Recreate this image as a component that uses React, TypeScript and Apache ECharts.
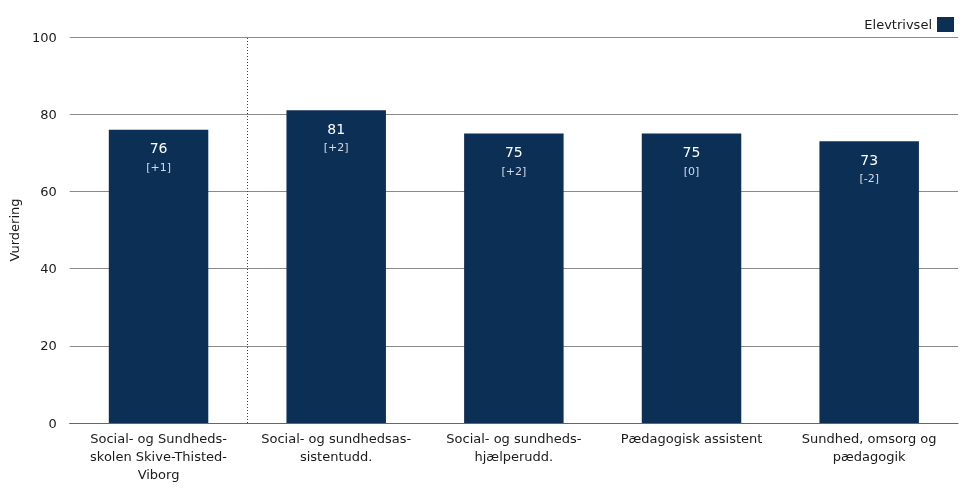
import React, { useEffect, useRef } from "react";
import * as echarts from "echarts";

const categories = [
  "Social- og Sundheds-\nskolen Skive-Thisted-\nViborg",
  "Social- og sundhedsas-\nsistentudd.",
  "Social- og sundheds-\nhjælperudd.",
  "Pædagogisk assistent",
  "Sundhed, omsorg og\npædagogik",
];
const values = [76, 81, 75, 75, 73];
const deltas = ["[+1]", "[+2]", "[+2]", "[0]", "[-2]"];
const yTicks = { min: 0, max: 100, interval: 20 };
const seriesName = "Elevtrivsel";
// separator drawn after the first category (boundary index on a 0..n scale)
const separatorAfter = 1;

const FONT = "DejaVu Sans";

export default function App() {
  const ref = useRef<HTMLDivElement>(null);
  useEffect(() => {
    if (!ref.current) return;
    const chart = echarts.init(ref.current, undefined, { renderer: "svg" });
    chart.setOption({
      animation: false,
      textStyle: { fontFamily: FONT },
      legend: {
        right: 11,
        top: 12,
        align: "right",
        itemWidth: 17,
        itemHeight: 15,
        itemGap: 5,
        textStyle: { fontFamily: FONT, fontSize: 13, color: "#1a1a1a" },
        data: [{ name: seriesName, icon: "rect" }],
      },
      grid: { left: 68, right: 12, top: 37, bottom: 68, containLabel: false },
      xAxis: [
        {
          type: "category",
          data: categories,
          axisLine: { show: true, lineStyle: { color: "#666", width: 1 } },
          axisTick: { show: false },
          axisLabel: {
            interval: 0,
            color: "#1a1a1a",
            fontFamily: FONT,
            fontSize: 13,
            lineHeight: 18,
            margin: 6,
          },
          splitLine: { show: false },
        },
        {
          type: "value",
          min: 0,
          max: categories.length,
          show: true,
          position: "bottom",
          axisLine: { show: false },
          axisTick: { show: false },
          axisLabel: { show: false },
          splitLine: { show: false },
        },
      ],
      yAxis: {
        type: "value",
        min: yTicks.min,
        max: yTicks.max,
        interval: yTicks.interval,
        name: "Vurdering",
        nameLocation: "middle",
        nameGap: 40,
        nameTextStyle: { color: "#1a1a1a", fontFamily: FONT, fontSize: 13 },
        axisLine: { show: false },
        axisTick: { show: false },
        axisLabel: { color: "#1a1a1a", fontFamily: FONT, fontSize: 13, margin: 13 },
        splitLine: { show: true, lineStyle: { color: "#8a8a8a", width: 1 } },
      },
      series: [
        {
          name: seriesName,
          type: "bar",
          xAxisIndex: 0,
          barWidth: "56%",
          itemStyle: { color: "#0c2f56" },
          data: values.map((v, i) => ({
            value: v,
            label: {
              formatter: `{v|${v}}\n{d|${deltas[i]}}`,
            },
          })),
          label: {
            show: true,
            position: "insideTop",
            distance: 9,
            rich: {
              v: { color: "#ffffff", fontSize: 14, fontFamily: FONT, fontWeight: "normal", lineHeight: 19 },
              d: { color: "#d5dbe3", fontSize: 11, fontFamily: FONT, fontWeight: "normal", lineHeight: 19 },
            },
          },
        },
        {
          name: "separator",
          type: "line",
          xAxisIndex: 1,
          data: [],
          silent: true,
          markLine: {
            silent: true,
            symbol: "none",
            label: { show: false },
            lineStyle: { color: "#444", type: [1, 2], width: 1 },
            data: [{ xAxis: separatorAfter }],
          },
        },
      ],
    });
    return () => chart.dispose();
  }, []);
  return (
    <div
      ref={ref}
      style={{ position: "fixed", left: 0, top: 0, width: 970, height: 491 }}
    />
  );
}
